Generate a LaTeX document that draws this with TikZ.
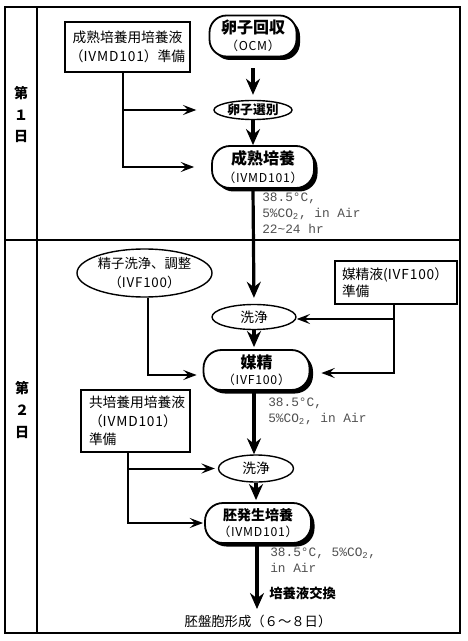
\documentclass[tikz,border=0pt]{standalone}
\usepackage{fontspec}
\setmainfont{Noto Sans CJK JP}
\setmonofont{Liberation Mono}
\usetikzlibrary{arrows.meta,shadows,shapes.geometric}
\newlength\upx \setlength\upx{0.75pt}
\definecolor{condgray}{RGB}{80,80,80}
\tikzset{
  stad/.style={draw, line width=1.8\upx, fill=white, align=center, inner sep=0pt,
    drop shadow={shadow xshift=3.5\upx, shadow yshift=-3.5\upx, fill=black, opacity=1}},
  oval/.style={draw, ellipse, line width=1.4\upx, fill=white, align=center, inner sep=0pt},
  prepbox/.style={draw, line width=1.4\upx, fill=white, inner sep=0pt},
  cond/.style={anchor=north west, align=left, inner sep=0pt, text=condgray,
    font=\ttfamily\fontsize{9.6}{12}\selectfont},
  mainarr/.style={line width=3.2\upx, -{Stealth[length=12pt, width=10.5pt, inset=4pt]}},
  brarr/.style={line width=2\upx, -{Stealth[length=10pt, width=7.5pt, inset=4pt]}},
  daylbl/.style={inner sep=0pt, font=\bfseries\fontsize{10.5}{12}\selectfont},
}
\newcommand\tA[1]{{\bfseries\fontsize{12}{14}\selectfont #1}}
\newcommand\tB[1]{{\fontsize{9.2}{11}\selectfont\addfontfeature{LetterSpace=6} #1}}
\newcommand\ls[1]{{\addfontfeature{LetterSpace=6}#1}}
\begin{document}
\begin{tikzpicture}[x=0.75pt, y=-0.75pt]
\useasboundingbox (0,0) rectangle (467,641);
% frame
\draw[line width=2\upx] (5,7) rectangle (460,633);
\draw[line width=1.8\upx] (37,7) -- (37,633);
\draw[line width=2.6\upx] (5,240) -- (460,240);
% day labels
\node[daylbl] (d1a) at (21,93) {第};
\node[daylbl] (d1b) at (21,115) {１};
\node[daylbl] (d1c) at (21,136) {日};
\node[daylbl] (d2a) at (22,388) {第};
\node[daylbl] (d2b) at (22,410) {２};
\node[daylbl] (d2c) at (22,432) {日};
% day 1
\node[prepbox, minimum width=125\upx, minimum height=50\upx, align=center,
  font=\fontsize{10.3}{14.5}\selectfont] (prep1) at (127.5,47)
  {成熟培養用培養液\\（\ls{IVMD101}）準備};
\node[stad, rounded corners=17\upx, minimum width=87\upx, minimum height=41\upx] (egg) at (253,36)
  {\tA{卵子回収}\\[1pt]\tB{（OCM）}};
\node[oval, minimum width=78\upx, minimum height=19\upx,
  font=\bfseries\fontsize{9.6}{11}\selectfont] (sel) at (253,110) {卵子選別};
\node[stad, rounded corners=18\upx, minimum width=102\upx, minimum height=42\upx] (mat) at (263,167)
  {\tA{成熟培養}\\[1pt]\tB{（IVMD101）}};
\node[cond] (c1) at (262,193) {38.5°C,\\5\%CO\textsubscript{2}, in Air\\22\textasciitilde24 hr};
% day 2
\node[oval, minimum width=135\upx, minimum height=48\upx,
  font=\fontsize{10}{14.5}\selectfont] (sperm) at (144.5,273) {精子洗浄、調整\\（\ls{IVF100}）};
\node[prepbox, minimum width=122\upx, minimum height=43\upx, text width=108\upx,
  align=left, font=\fontsize{10.3}{13}\selectfont] (prep2) at (396,282.5)
  {媒精液(\ls{IVF100}）\\準備};
\node[oval, minimum width=84\upx, minimum height=25\upx,
  font=\fontsize{10.3}{12}\selectfont] (w1) at (254,317) {洗浄};
\node[stad, rounded corners=18\upx, minimum width=106\upx, minimum height=40\upx] (fert) at (256.5,370)
  {\tA{媒精}\\[0pt]\tB{（IVF100）}};
\node[cond] (c2) at (268,398) {38.5°C,\\5\%CO\textsubscript{2}, in Air};
\node[prepbox, minimum width=109\upx, minimum height=62\upx, text width=93\upx,
  align=left, font=\fontsize{10.3}{14}\selectfont] (prep3) at (135.5,421)
  {共培養用培養液\\（\ls{IVMD101}）\\準備};
\node[oval, minimum width=75\upx, minimum height=27\upx,
  font=\fontsize{10.3}{12}\selectfont] (w2) at (256,468.5) {洗浄};
\node[stad, rounded corners=18\upx, minimum width=106\upx, minimum height=40\upx] (emb) at (258,523)
  {{\bfseries\fontsize{10.5}{12.5}\selectfont 胚発生培養}\\[0pt]\tB{（IVMD101）}};
\node[cond] (c3) at (270,548) {38.5°C, 5\%CO\textsubscript{2},\\in Air};
\node[anchor=west, inner sep=0pt, font=\bfseries\fontsize{10}{12}\selectfont] (exch) at (269,593) {培養液交換};
\node[inner sep=0pt, font=\fontsize{10}{12}\selectfont] (blast) at (258,621) {胚盤胞形成（６～８日）};
\coordinate (endpt) at (257,609);
% main arrows
\draw[mainarr, shorten <=11\upx, shorten >=5\upx] (egg.south) -- (sel.north);
\draw[mainarr] (sel.south) -- (mat.north -| sel.south);
\draw[mainarr, shorten >=6\upx] (mat.south -| sel.south) -- (w1.north);
\draw[mainarr, shorten >=2\upx] (w1.south) -- (w1.south |- fert.north);
\draw[mainarr] (w1.south |- fert.south) -- (w1.south |- w2.north);
\draw[mainarr, shorten >=2\upx] (w2.south) -- (w2.south |- emb.north);
\draw[mainarr] (endpt |- emb.south) -- (endpt);
% branch arrows
\draw[brarr] ([xshift=-4.5\upx]prep1.south) |- ([xshift=-17\upx]sel.west);
\draw[brarr] ([xshift=-4.5\upx]prep1.south) |- ([xshift=-17\upx]mat.west);
\draw[brarr] ([xshift=3.5\upx]sperm.south) |- ([xshift=-6\upx,yshift=-5\upx]fert.west);
\draw[brarr] ([xshift=-2\upx]prep2.south) |- ([yshift=-2\upx]w1.east);
\draw[brarr] ([xshift=-2\upx]prep2.south) |- ([xshift=11\upx,yshift=-3\upx]fert.east);
\draw[brarr] ([xshift=-7.5\upx]prep3.south) |- ([xshift=-3\upx]w2.west);
\draw[brarr] ([xshift=-7.5\upx]prep3.south) |- ([xshift=-1\upx]emb.west);
\end{tikzpicture}
\end{document}
